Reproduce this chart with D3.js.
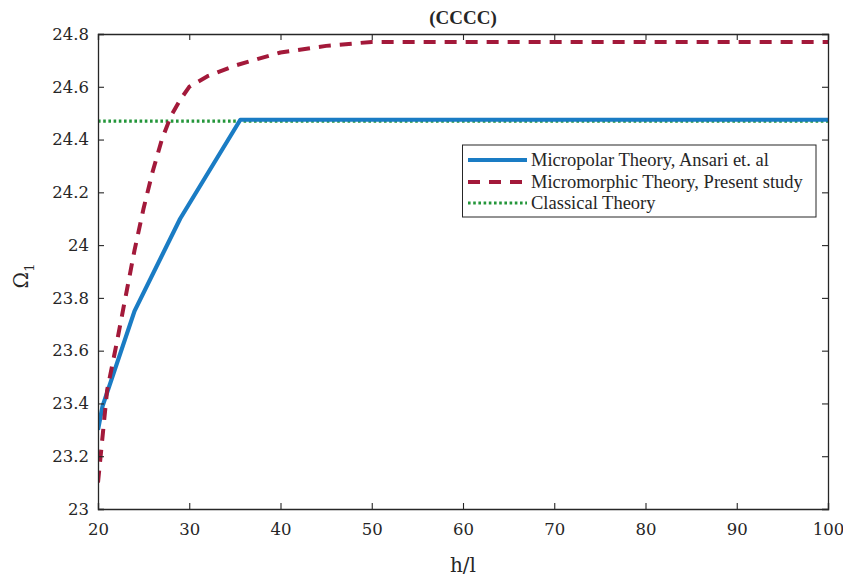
<!DOCTYPE html>
<html>
<head>
<meta charset="utf-8">
<script src="https://cdn.jsdelivr.net/npm/d3@7"></script>
<style>
  html, body { margin: 0; padding: 0; background: #fff; }
  svg { display: block; }
  text { font-family: "DejaVu Serif", "Liberation Serif", serif; fill: #262626; }
</style>
</head>
<body>
<svg id="chart" width="843" height="579"></svg>
<script>
// h/l ratio against the first non-dimensional frequency Ω1 (CCCC plate)
const micropolarX = [20, 20.5, 24, 29, 35.6, 100];
const micropolarY = [23.30, 23.39, 23.75, 24.10, 24.475, 24.475];

const micromorphicX = [20, 21, 22, 23, 24, 25, 26, 27, 28, 29, 30, 32, 35, 40, 45, 50, 100];
const micromorphicY = [23.10, 23.45, 23.62, 23.80, 23.98, 24.14, 24.28, 24.40, 24.49, 24.55, 24.60, 24.64, 24.68, 24.73, 24.755, 24.77, 24.77];

const classicalX = [20, 100];
const classicalY = [24.47, 24.47];

const xTicks = [20, 30, 40, 50, 60, 70, 80, 90, 100];
const yTicks = [23, 23.2, 23.4, 23.6, 23.8, 24, 24.2, 24.4, 24.6, 24.8];

const seriesNames = ["Micropolar Theory, Ansari et. al", "Micromorphic Theory, Present study", "Classical Theory"];
const titleText = "(CCCC)";
const xLabel = "h/l";

const svg = d3.select("#chart");
const m = { left: 98, right: 828, top: 34, bottom: 509 };

const x = d3.scaleLinear().domain([20, 100]).range([m.left, m.right]);
const y = d3.scaleLinear().domain([23, 24.8]).range([m.bottom, m.top]);

const fmtY = d => (d === 23 || d === 24) ? String(d) : d.toFixed(1);

// plot series
const styles = [
  { color: "#1a7cc4", width: 4.2, dash: null },
  { color: "#a3193a", width: 4, dash: "12,9" },
  { color: "#23963a", width: 3.2, dash: "2.6,2.6" }
];
const seriesData = [
  d3.zip(micropolarX, micropolarY),
  d3.zip(micromorphicX, micromorphicY),
  d3.zip(classicalX, classicalY)
];
const line = d3.line().x(d => x(d[0])).y(d => y(d[1]));

svg.append("clipPath").attr("id", "plotclip")
  .append("rect").attr("x", m.left).attr("y", m.top)
  .attr("width", m.right - m.left).attr("height", m.bottom - m.top);

const plot = svg.append("g").attr("clip-path", "url(#plotclip)");
// classical first, then micropolar, then micromorphic on top
[2, 0, 1].forEach(i => {
  plot.append("path")
    .datum(seriesData[i])
    .attr("d", line)
    .attr("fill", "none")
    .attr("stroke", styles[i].color)
    .attr("stroke-width", styles[i].width)
    .attr("stroke-dasharray", styles[i].dash)
    .attr("stroke-linejoin", "round");
});

// axes (ticks pointing inward)
const axisColor = "#262626";
const tickLen = 6;
const axBottom = svg.append("g").attr("transform", `translate(0,${m.bottom})`)
  .call(d3.axisBottom(x).tickValues(xTicks).tickSize(-tickLen).tickPadding(14).tickFormat(d3.format("d")));
const axTop = svg.append("g").attr("transform", `translate(0,${m.top})`)
  .call(d3.axisTop(x).tickValues(xTicks).tickSize(-tickLen).tickFormat(""));
const axLeft = svg.append("g").attr("transform", `translate(${m.left},0)`)
  .call(d3.axisLeft(y).tickValues(yTicks).tickSize(-tickLen).tickPadding(9).tickFormat(fmtY));
const axRight = svg.append("g").attr("transform", `translate(${m.right},0)`)
  .call(d3.axisRight(y).tickValues(yTicks).tickSize(-tickLen).tickFormat(""));

[axBottom, axTop, axLeft, axRight].forEach(g => {
  g.select(".domain").attr("stroke", axisColor).attr("stroke-width", 1.3);
  g.selectAll(".tick line").attr("stroke", axisColor).attr("stroke-width", 1.1);
  g.selectAll("text").attr("fill", "#262626")
    .style("font-family", "'DejaVu Serif', serif").style("font-size", "16.5px");
});

// title
svg.append("text").attr("x", (m.left + m.right) / 2).attr("y", 24)
  .attr("text-anchor", "middle")
  .style("font-family", "'Liberation Serif', serif")
  .style("font-size", "19px").style("font-weight", "bold")
  .text(titleText);

// x label
svg.append("text").attr("x", (m.left + m.right) / 2).attr("y", 572)
  .attr("text-anchor", "middle").style("font-size", "20px").text(xLabel);

// y label Ω1
const yl = svg.append("text").attr("transform", "translate(28,276) rotate(-90)")
  .attr("text-anchor", "middle").style("font-size", "20px");
yl.append("tspan").text("Ω");
yl.append("tspan").attr("dy", 6).style("font-size", "13px").text("1");

// legend
const lg = svg.append("g");
lg.append("rect").attr("x", 462.5).attr("y", 145).attr("width", 353.5).attr("height", 72)
  .attr("fill", "#fff").attr("stroke", "#262626").attr("stroke-width", 1);
const rowsY = [160, 182, 203];
seriesNames.forEach((name, i) => {
  lg.append("line").attr("x1", 468).attr("x2", 527).attr("y1", rowsY[i]).attr("y2", rowsY[i])
    .attr("stroke", styles[i].color).attr("stroke-width", styles[i].width)
    .attr("stroke-dasharray", styles[i].dash);
  lg.append("text").attr("x", 531).attr("y", rowsY[i] + 6)
    .style("font-family", "'Liberation Serif', serif")
    .style("font-size", "18.5px").text(name);
});
</script>
</body>
</html>
